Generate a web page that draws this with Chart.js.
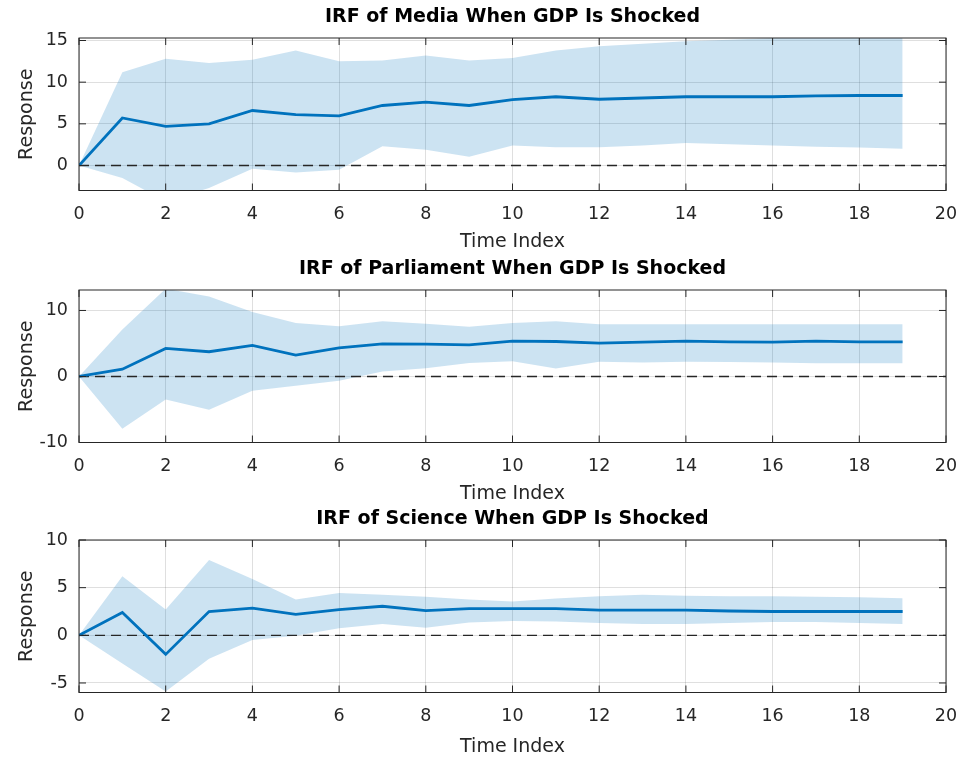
<!DOCTYPE html>
<html>
<head>
<meta charset="utf-8">
<script src="https://cdn.jsdelivr.net/npm/chart.js@4/dist/chart.umd.min.js"></script>
<style>
  html, body { margin: 0; padding: 0; background: #fff; }
  #wrap { position: relative; width: 962px; height: 758px; overflow: hidden; }
  canvas { position: absolute; left: 0; }
</style>
</head>
<body>
<div id="wrap">
  <canvas id="c-media" width="962" height="253" style="top:0px"></canvas>
  <canvas id="c-parl" width="962" height="253" style="top:252px"></canvas>
  <canvas id="c-sci" width="962" height="256" style="top:502px"></canvas>
</div>
<script>
// time index of the impulse responses
const periods = [0, 1, 2, 3, 4, 5, 6, 7, 8, 9, 10, 11, 12, 13, 14, 15, 16, 17, 18, 19];
const xMin = 0, xMax = 20, xStep = 2;

// Media
const mediaMean  = [0, 5.7, 4.7, 5.0, 6.6, 6.1, 5.95, 7.2, 7.6, 7.2, 7.9, 8.25, 7.95, 8.1, 8.25, 8.25, 8.25, 8.35, 8.4, 8.4];
const mediaUpper = [0, 11.2, 12.8, 12.3, 12.7, 13.8, 12.5, 12.6, 13.2, 12.6, 12.9, 13.8, 14.3, 14.6, 14.9, 15.1, 15.3, 15.5, 15.6, 15.7];
const mediaLower = [0, -1.5, -4.3, -2.7, -0.4, -0.85, -0.5, 2.3, 1.9, 1.05, 2.4, 2.2, 2.2, 2.4, 2.7, 2.55, 2.4, 2.25, 2.15, 2.0];

// Parliament
const parlMean  = [0, 1.1, 4.25, 3.75, 4.7, 3.25, 4.35, 4.95, 4.9, 4.8, 5.35, 5.3, 5.05, 5.2, 5.35, 5.25, 5.2, 5.35, 5.25, 5.25];
const parlUpper = [0, 7.1, 13.3, 12.1, 9.75, 8.1, 7.6, 8.35, 8.0, 7.55, 8.1, 8.35, 7.9, 7.9, 7.9, 7.9, 7.9, 7.9, 7.9, 7.9];
const parlLower = [0, -7.9, -3.5, -5.05, -2.15, -1.4, -0.65, 0.75, 1.25, 2.05, 2.3, 1.2, 2.25, 2.1, 2.25, 2.2, 2.1, 2.0, 2.0, 2.0];

// Science
const sciMean  = [0, 2.4, -2.0, 2.5, 2.85, 2.2, 2.7, 3.05, 2.6, 2.8, 2.8, 2.8, 2.65, 2.65, 2.65, 2.55, 2.5, 2.5, 2.5, 2.5];
const sciUpper = [0, 6.2, 2.7, 7.9, 5.9, 3.75, 4.45, 4.25, 4.05, 3.75, 3.55, 3.85, 4.1, 4.25, 4.15, 4.1, 4.1, 4.05, 4.0, 3.9];
const sciLower = [0, -2.95, -5.9, -2.45, -0.5, -0.05, 0.75, 1.2, 0.8, 1.35, 1.5, 1.45, 1.3, 1.2, 1.2, 1.3, 1.4, 1.4, 1.3, 1.2];

const FONT = "'DejaVu Sans', 'Liberation Sans', Arial, sans-serif";
const AXIS_COLOR = "#262626";
const LINE_BLUE = "#0072BD";
const BAND_BLUE = "rgba(0, 114, 189, 0.2)";
const PLOT_H = 152.5;
const TITLE_H = 38;

// MATLAB-style box with inward tick marks
const boxPlugin = {
  id: "matlabBox",
  afterDraw(chart) {
    const { ctx, chartArea: a, scales } = chart;
    const len = 7;
    ctx.save();
    ctx.strokeStyle = AXIS_COLOR;
    ctx.lineWidth = 1;
    ctx.beginPath();
    scales.x.ticks.forEach(t => {
      const px = scales.x.getPixelForValue(t.value);
      ctx.moveTo(px, a.bottom); ctx.lineTo(px, a.bottom - len);
      ctx.moveTo(px, a.top); ctx.lineTo(px, a.top + len);
    });
    scales.y.ticks.forEach(t => {
      const py = scales.y.getPixelForValue(t.value);
      ctx.moveTo(a.left, py); ctx.lineTo(a.left + len, py);
      ctx.moveTo(a.right, py); ctx.lineTo(a.right - len, py);
    });
    ctx.stroke();
    ctx.strokeRect(a.left, a.top, a.right - a.left, a.bottom - a.top);
    ctx.restore();
  },
};

const pts = arr => periods.map((p, i) => ({ x: p, y: arr[i] }));

function makeIrf(canvasId, title, mean, upper, lower, yMin, yMax, yStep) {
  const canvas = document.getElementById(canvasId);
  const xAxisH = canvas.height - TITLE_H - PLOT_H;
  return new Chart(canvas.getContext("2d"), {
    type: "line",
    data: {
      datasets: [
        { data: pts(mean), borderColor: LINE_BLUE, borderWidth: 2.8, pointRadius: 0, tension: 0, fill: false, order: 0 },
        { data: pts(upper), borderWidth: 0, borderColor: "rgba(0,0,0,0)", backgroundColor: BAND_BLUE, pointRadius: 0, tension: 0, fill: "+1", order: 3 },
        { data: pts(lower), borderWidth: 0, borderColor: "rgba(0,0,0,0)", pointRadius: 0, tension: 0, fill: false, order: 3 },
        { data: [{ x: xMin, y: 0 }, { x: xMax, y: 0 }], borderColor: AXIS_COLOR, borderWidth: 1.3, borderDash: [10, 6], pointRadius: 0, fill: false, order: 1 },
      ],
    },
    options: {
      responsive: false,
      animation: false,
      devicePixelRatio: 1,
      layout: { padding: { left: 0, right: 16, top: 0, bottom: 0 } },
      plugins: {
        legend: { display: false },
        tooltip: { enabled: false },
      },
      scales: {
        x: {
          type: "linear",
          min: xMin,
          max: xMax,
          afterFit: s => { s.height = xAxisH; s.paddingLeft = 0; s.paddingRight = 0; },
          ticks: { stepSize: xStep, color: AXIS_COLOR, padding: 13, maxRotation: 0, font: { family: FONT, size: 17.5 } },
          grid: { color: "rgba(38,38,38,0.15)", drawTicks: false },
          border: { display: false },
          title: { display: true, text: "Time Index", color: AXIS_COLOR, font: { family: FONT, size: 19 }, padding: { top: 0, bottom: 0 } },
        },
        // top axis only carries the subplot title, centred over the plot box
        top: {
          type: "linear",
          position: "top",
          min: xMin,
          max: xMax,
          afterFit: s => { s.height = TITLE_H; s.paddingLeft = 0; s.paddingRight = 0; },
          ticks: { display: false },
          grid: { display: false, drawTicks: false },
          border: { display: false },
          title: { display: true, text: title, color: "#000", font: { family: FONT, size: 19, weight: "bold" }, padding: { top: 5.6, bottom: 0 } },
        },
        y: {
          min: yMin,
          max: yMax,
          afterFit: s => { s.width = 79; s.paddingTop = 0; s.paddingBottom = 0; },
          ticks: { stepSize: yStep, includeBounds: false, color: AXIS_COLOR, padding: 11, font: { family: FONT, size: 17.5 } },
          grid: { color: "rgba(38,38,38,0.15)", drawTicks: false },
          border: { display: false },
          title: { display: true, text: "Response", color: AXIS_COLOR, font: { family: FONT, size: 19 }, padding: { top: 16, bottom: 0 } },
        },
      },
    },
    plugins: [boxPlugin],
  });
}

makeIrf("c-media", "IRF of Media When GDP Is Shocked", mediaMean, mediaUpper, mediaLower, -3, 15.3, 5);
makeIrf("c-parl", "IRF of Parliament When GDP Is Shocked", parlMean, parlUpper, parlLower, -10, 13.1, 10);
makeIrf("c-sci", "IRF of Science When GDP Is Shocked", sciMean, sciUpper, sciLower, -6, 10, 5);
</script>
</body>
</html>
